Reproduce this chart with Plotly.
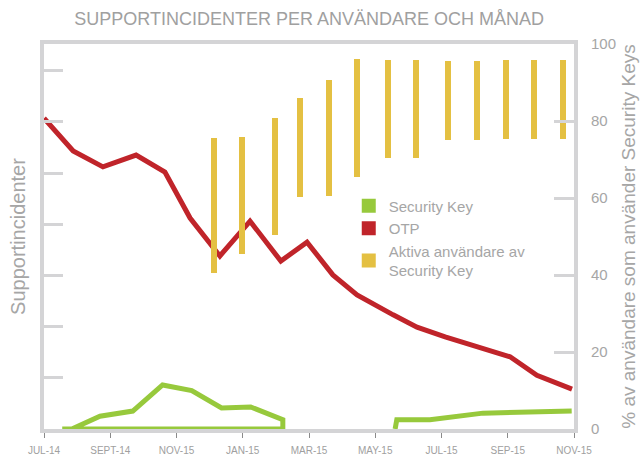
import plotly.graph_objects as go

# ---- data (x in months since JUL-14) ----
tick_months = [0, 2, 4, 6, 8, 10, 12, 14, 16]
tick_labels = ["JUL-14", "SEPT-14", "NOV-15", "JAN-15", "MAR-15", "MAY-15", "JUL-15", "SEP-15", "NOV-15"]

otp_x = [0.0, 0.88, 1.78, 2.78, 3.65, 4.41, 5.31, 6.22, 7.15, 7.94, 8.72, 9.45, 10.54, 11.26, 12.11, 12.95, 14.07, 14.88, 15.94]
otp_y = [6.07, 5.43, 5.12, 5.35, 5.02, 4.12, 3.38, 4.06, 3.28, 3.65, 3.01, 2.62, 2.23, 1.99, 1.80, 1.64, 1.41, 1.05, 0.78]

sk_x = [0.55, 0.84, 1.69, 2.68, 3.58, 4.46, 5.36, 6.24, 7.21, 7.21, 0.55, None, 10.6, 10.65, 11.65, 12.86, 13.25, 15.93]
sk_y = [0.0, 0.0, 0.25, 0.35, 0.86, 0.75, 0.41, 0.43, 0.18, 0.0, 0.0, None, 0.0, 0.18, 0.18, 0.29, 0.31, 0.35]

act_x = [5.13, 5.98, 6.97, 7.73, 8.60, 9.45, 10.38, 11.23, 12.20, 13.07, 13.95, 14.79, 15.67]
act_low = [40.6, 45.5, 50.5, 60.3, 60.6, 65.5, 70.5, 70.5, 75.1, 75.1, 75.4, 75.4, 75.4]
act_high = [75.6, 75.8, 80.8, 86.0, 90.6, 96.1, 95.8, 95.8, 95.6, 95.6, 95.8, 95.8, 95.8]

GREEN = "#97c93c"
RED = "#c0242a"
GOLD = "#e4c042"
SPINE = "#d4d4d6"
TXT = "#a6a6a6"
FONT = "Liberation Sans, Arial, sans-serif"

fig = go.Figure()

fig.add_trace(go.Scatter(x=otp_x, y=otp_y, mode="lines", line=dict(color=RED, width=5),
                         showlegend=False, yaxis="y"))
fig.add_trace(go.Scatter(x=sk_x, y=sk_y, mode="lines", line=dict(color=GREEN, width=5),
                         showlegend=False, yaxis="y", connectgaps=False))
fig.add_trace(go.Bar(x=act_x, base=act_low, y=[h - l for h, l in zip(act_high, act_low)],
                     width=0.18, marker=dict(color=GOLD, line=dict(width=0)),
                     showlegend=False, yaxis="y2"))

# legend entries (square swatches)
for name, col in [("Security Key", GREEN), ("OTP", RED), ("Aktiva användare av<br>Security Key", GOLD)]:
    fig.add_trace(go.Scatter(x=[None], y=[None], mode="markers", name=name,
                             marker=dict(symbol="square", size=14, color=col), yaxis="y"))

fig.update_layout(
    width=640, height=456,
    margin=dict(l=44, r=66, t=44, b=27, autoexpand=False),
    paper_bgcolor="white", plot_bgcolor="white",
    font=dict(family=FONT, color=TXT),
    title=dict(text="SUPPORTINCIDENTER PER ANVÄNDARE OCH MÅNAD", x=0.483, xanchor="center",
               y=0.958, yanchor="middle", font=dict(size=18, color="#a0a0a0", family=FONT)),
    showlegend=True,
    legend=dict(x=0.575, y=0.622, xanchor="left", yanchor="top", bgcolor="rgba(0,0,0,0)",
                font=dict(size=15, color=TXT, family=FONT), tracegroupgap=0, itemsizing="trace"),
    xaxis=dict(range=[0, 16], showgrid=False, zeroline=False, showline=True, linewidth=4,
               linecolor=SPINE, mirror=True, ticks="outside", ticklen=5, tickwidth=1,
               tickcolor="#8a8a8a", tickvals=tick_months, ticktext=tick_labels,
               tickfont=dict(size=10, color="#a0a0a0"), ticklabelstandoff=4, automargin=False),
    yaxis=dict(range=[0, 7.52], showgrid=False, zeroline=False, showline=True, linewidth=4,
               linecolor=SPINE, ticks="inside", ticklen=19, tickwidth=3, tickcolor=SPINE,
               tickvals=[0, 1, 2, 3, 4, 5, 6, 7], showticklabels=False, automargin=False,
               title=dict(text="Supportincidenter", font=dict(size=20, color=TXT), standoff=10)),
    yaxis2=dict(range=[0, 100], overlaying="y", side="right", showgrid=False, zeroline=False,
                showline=True, linewidth=4, linecolor=SPINE, ticks="inside", ticklen=20,
                tickwidth=3, tickcolor=SPINE, tickvals=[0, 20, 40, 60, 80, 100],
                tickfont=dict(size=15, color=TXT), ticklabelstandoff=10, automargin=False,
                title=dict(text="% av användare som använder Security Keys",
                           font=dict(size=19, color=TXT), standoff=8)),
    bargap=0,
)

fig.write_html("out.html", config={"displayModeBar": False},
               post_script="document.body.style.margin='0';document.body.style.padding='0';")
